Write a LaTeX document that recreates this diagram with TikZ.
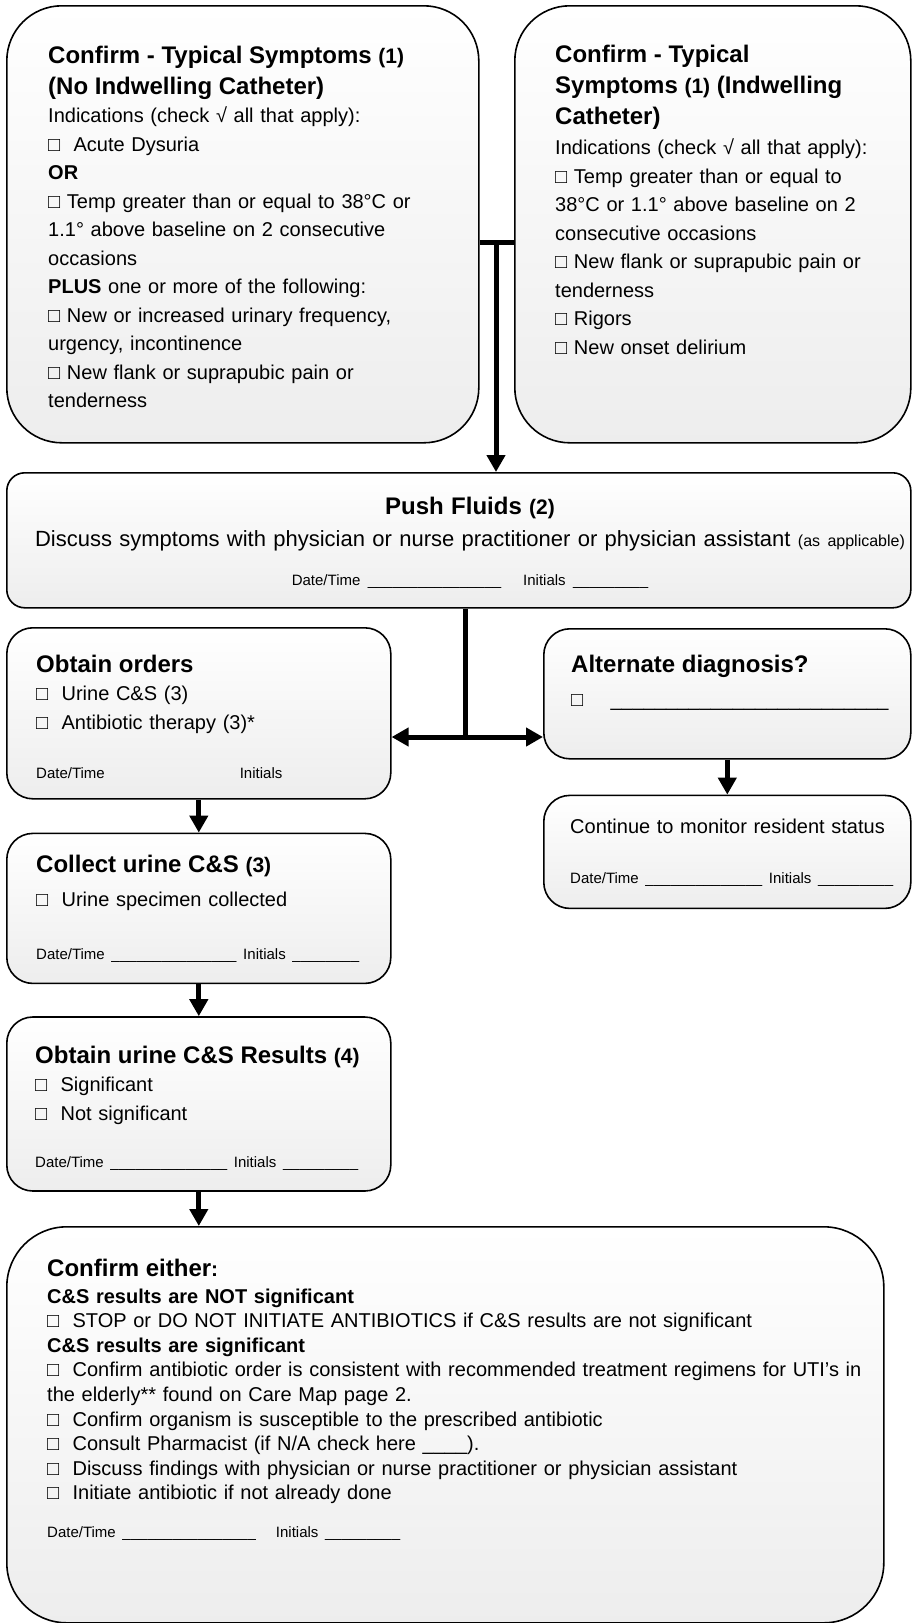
\documentclass[tikz,border=0pt]{standalone}
\usepackage{fontspec}
\setmainfont{Liberation Sans}
\usetikzlibrary{positioning,arrows.meta}

\newcommand{\bodysize}{\fontsize{20}{28.5}\selectfont}
\newcommand{\headsize}{\fontsize{24}{31}\selectfont\bfseries}
\newcommand{\numsize}{\fontsize{21}{28}\selectfont}
\newcommand{\datesize}{\fontsize{15}{18}\selectfont}
\newcommand{\chk}{□}
\ExplSyntaxOn
\NewDocumentCommand{\fillblank}{m}{\prg_replicate:nn{#1}{\textunderscore}}
\ExplSyntaxOff

\begin{document}
\begin{tikzpicture}[x=1pt,y=1pt,
    card/.style={draw, line width=1.6pt, top color=white, bottom color=black!7,
      inner sep=0pt, anchor=north west},
    bigcard/.style={card, rounded corners=55pt},
    midcard/.style={card, rounded corners=26pt},
    widecard/.style={card, rounded corners=18pt},
    cardtext/.style={inner sep=0pt, anchor=base west, align=left, font=\bodysize},
    bar/.style={line width=5pt},
    flow/.style={bar, -{Triangle[length=17pt,width=18pt]}},
    twoway/.style={bar, {Triangle[length=17pt,width=18pt]}-{Triangle[length=17pt,width=18pt]}}
  ]
  \useasboundingbox (0,0) rectangle (912,-1623);

  % the two symptom boxes
  \node[bigcard, minimum width=472pt, minimum height=437pt] (sym1) at (6,-5) {};
  \node[bigcard, minimum width=396pt, minimum height=437pt] (sym2) at (514,-5) {};
  \node[cardtext, text width=425pt] (sym1txt) at ([shift={(42,-58)}]sym1.north west) {%
    {\headsize Confirm - Typical Symptoms {\numsize(1)}\\
    (No Indwelling Catheter)\par}
    Indications (check √ all that apply):\\
    \chk\ \ Acute Dysuria\\
    \textbf{OR}\\
    \chk\ Temp greater than or equal to 38°C or\\
    1.1° above baseline on 2 consecutive\\
    occasions\\
    \textbf{PLUS} one or more of the following:\\
    \chk\ New or increased urinary frequency,\\
    urgency, incontinence\\
    \chk\ New flank or suprapubic pain or\\
    tenderness};
  \node[cardtext, text width=350pt] (sym2txt) at ([shift={(41,-57)}]sym2.north west) {%
    {\headsize Confirm - Typical\\
    Symptoms {\numsize(1)} (Indwelling\\
    Catheter)\par}\vspace{2pt}
    Indications (check √ all that apply):\\
    \chk\ Temp greater than or equal to\\
    38°C or 1.1° above baseline on 2\\
    consecutive occasions\\
    \chk\ New flank or suprapubic pain or\\
    tenderness\\
    \chk\ Rigors\\
    \chk\ New onset delirium};

  % push fluids
  \node[widecard, minimum width=904pt, minimum height=135pt] (push) at (6,-472) {};
  \node[cardtext, anchor=base, align=center, text width=900pt,
    font={\fontsize{22}{32}\selectfont}] (pushtxt) at ([shift={(464,-42)}]push.north west) {%
    {\headsize Push Fluids {\numsize(2)}}\\
    Discuss symptoms with physician or nurse practitioner or physician assistant
    {\fontsize{16}{18}\selectfont(as applicable)}\\[7pt]
    {\datesize Date/Time \fillblank{16}\ \ \ Initials \fillblank{9}}};

  % orders and alternate diagnosis
  \node[midcard, minimum width=384pt, minimum height=171pt] (ord) at (6,-627) {};
  \node[cardtext, text width=350pt] (ordtxt) at ([shift={(30,-45)}]ord.north west) {%
    {\headsize Obtain orders}\\
    \chk\ \ Urine C\&S (3)\\
    \chk\ \ Antibiotic therapy (3)*\\[20.5pt]
    {\datesize Date/Time\hspace{135pt}Initials}};
  \node[midcard, minimum width=367pt, minimum height=130pt] (alt) at (543,-628) {};
  \node[cardtext, text width=340pt] (alttxt) at ([shift={(28,-44)}]alt.north west) {%
    {\headsize Alternate diagnosis?}\\[6pt]
    \chk\ \ \hspace{14pt}\fillblank{25}};
  \node[midcard, below=35pt of alt, minimum width=367pt, minimum height=113pt] (mon) {};
  \node[cardtext, text width=340pt] (montxt) at ([shift={(27,-39)}]mon.north west) {%
    Continue to monitor resident status\\[21.5pt]
    {\datesize Date/Time \fillblank{14} Initials \fillblank{9}}};

  % specimen and results
  \node[midcard, below=33pt of ord, minimum width=384pt, minimum height=150pt] (col) {};
  \node[cardtext, text width=350pt] (coltxt) at ([shift={(30,-40)}]col.north west) {%
    {\headsize Collect urine C\&S {\numsize(3)}}\\[5.5pt]
    \chk\ \ Urine specimen collected\\[24.5pt]
    {\datesize Date/Time \fillblank{15} Initials \fillblank{8}}};
  \node[midcard, below=32pt of col, minimum width=384pt, minimum height=174pt] (res) {};
  \node[cardtext, text width=350pt] (restxt) at ([shift={(29,-47)}]res.north west) {%
    {\headsize Obtain urine C\&S Results {\numsize(4)}}\\
    \chk\ \ Significant\\
    \chk\ \ Not significant\\[18.5pt]
    {\datesize Date/Time \fillblank{14} Initials \fillblank{9}}};

  % final check
  \node[card, rounded corners=60pt, minimum width=877pt, minimum height=396pt] (fin) at (6,-1226) {};
  \node[cardtext, text width=850pt, font={\fontsize{20}{24.6}\selectfont}] (fintxt)
    at ([shift={(41,-50)}]fin.north west) {%
    {\headsize Confirm either{\numsize:}}\\[2.4pt]
    \textbf{C\&S results are NOT significant}\\
    \chk\ \ STOP or DO NOT INITIATE ANTIBIOTICS if C\&S results are not significant\\
    \textbf{C\&S results are significant}\\
    \chk\ \ Confirm antibiotic order is consistent with recommended treatment regimens for UTI’s in\\
    the elderly** found on Care Map page 2.\\
    \chk\ \ Confirm organism is susceptible to the prescribed antibiotic\\
    \chk\ \ Consult Pharmacist (if N/A check here \fillblank{4}).\\
    \chk\ \ Discuss findings with physician or nurse practitioner or physician assistant\\
    \chk\ \ Initiate antibiotic if not already done\\[13.4pt]
    {\datesize Date/Time \fillblank{16}\ \ \ Initials \fillblank{9}}};

  % connectors
  \coordinate (tj) at (496,-242);
  \coordinate (sp) at (465,-737);
  \draw[bar] (tj -| sym1.east) -- (tj -| sym2.west);
  \draw[flow] (tj) -- (tj |- push.north);
  \draw[bar] (sp |- push.south) -- (sp);
  \draw[twoway] (sp -| ord.east) -- (sp -| alt.west);
  \draw[flow] (alt.south) -- (mon.north);
  \draw[flow] (ord.south) -- (col.north);
  \draw[flow] (col.south) -- (res.north);
  \draw[flow] (res.south) -- (res.south |- fin.north);
\end{tikzpicture}
\end{document}
